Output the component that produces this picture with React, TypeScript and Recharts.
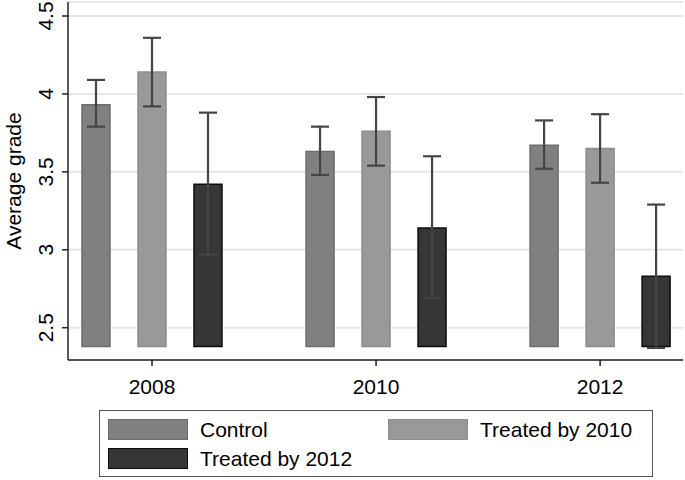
import React from 'react';
import { BarChart, Bar, ErrorBar, XAxis, YAxis, CartesianGrid } from 'recharts';

const years = [2008, 2010, 2012];
const yTicks = [2.5, 3, 3.5, 4, 4.5];
const BAR_FLOOR = 2.38;

// means and confidence bounds
const controlMean = [3.93, 3.63, 3.67];
const controlLo = [3.79, 3.48, 3.52];
const controlHi = [4.09, 3.79, 3.83];

const t2010Mean = [4.14, 3.76, 3.65];
const t2010Lo = [3.92, 3.54, 3.43];
const t2010Hi = [4.36, 3.98, 3.87];

const t2012Mean = [3.42, 3.14, 2.83];
const t2012Lo = [2.97, 2.69, 2.37];
const t2012Hi = [3.88, 3.6, 3.29];

const series = [
  { key: 'control', name: 'Control', fill: '#808080', stroke: '#6c6c6c', mean: controlMean, lo: controlLo, hi: controlHi },
  { key: 't2010', name: 'Treated by 2010', fill: '#999999', stroke: '#8c8c8c', mean: t2010Mean, lo: t2010Lo, hi: t2010Hi },
  { key: 't2012', name: 'Treated by 2012', fill: '#363636', stroke: '#0c0c0c', mean: t2012Mean, lo: t2012Lo, hi: t2012Hi },
];

const data = years.map((year, i) => {
  const row: any = { year };
  series.forEach((s) => {
    row[s.key] = [BAR_FLOOR, s.mean[i]];
    row[s.key + 'Err'] = [s.mean[i] - s.lo[i], s.hi[i] - s.mean[i]];
  });
  return row;
});

const FONT = "Arial, 'Liberation Sans', sans-serif";

const YTick = (props: any) => {
  const { x, y, payload } = props;
  return (
    <text x={x} y={y} transform={`rotate(-90 ${x} ${y})`} textAnchor="middle" fontSize={21} fontFamily={FONT} fill="#000">
      {payload.value}
    </text>
  );
};

const YLabel = (props: any) => {
  const { viewBox } = props;
  const cy = viewBox.y + viewBox.height / 2;
  return (
    <text x={21} y={cy} transform={`rotate(-90 21 ${cy})`} textAnchor="middle" fontSize={21} fontFamily={FONT} fill="#000">
      Average grade
    </text>
  );
};

const LegendBox = () => {
  const items = [
    { s: series[0], left: 8, top: 8 },
    { s: series[1], left: 288, top: 8 },
    { s: series[2], left: 8, top: 37 },
  ];
  return (
    <div
      style={{
        position: 'absolute',
        left: 99,
        top: 410,
        width: 552,
        height: 65,
        border: '1.5px solid #555',
        background: '#fff',
        fontFamily: FONT,
        fontSize: 21,
      }}
    >
      {items.map(({ s, left, top }) => (
        <div key={s.key} style={{ position: 'absolute', left, top, display: 'flex', alignItems: 'center', height: 21 }}>
          <div style={{ width: 78, height: 19, background: s.fill, border: `1.5px solid ${s.stroke}` }} />
          <span style={{ marginLeft: 12, whiteSpace: 'nowrap', color: '#000' }}>{s.name}</span>
        </div>
      ))}
    </div>
  );
};

export default function App() {
  return (
    <div style={{ position: 'absolute', left: 0, top: 0, width: 685, height: 480, background: '#fff' }}>
      <BarChart
        width={685}
        height={480}
        data={data}
        margin={{ top: 2, right: 2, bottom: 0, left: 0 }}
        barSize={28}
        barGap={28}
      >
        <CartesianGrid vertical={false} stroke="#e6e6e6" strokeWidth={2} />
        <XAxis
          dataKey="year"
          type="number"
          domain={[2007.25, 2012.74]}
          ticks={years}
          allowDataOverflow
          axisLine={{ stroke: '#222', strokeWidth: 1.5 }}
          tickLine={{ stroke: '#222', strokeWidth: 1.5 }}
          tickSize={6}
          tickMargin={13}
          tick={{ fontSize: 21, fill: '#000', fontFamily: FONT }}
          height={120}
        />
        <YAxis
          type="number"
          domain={[2.2928, 4.5898]}
          ticks={yTicks}
          allowDataOverflow
          width={68}
          axisLine={{ stroke: '#222', strokeWidth: 1.5 }}
          tickLine={{ stroke: '#222', strokeWidth: 1.5 }}
          tickSize={6}
          tickMargin={9}
          tick={<YTick />}
          label={<YLabel />}
        />
        {series.map((s) => (
          <Bar key={s.key} dataKey={s.key} name={s.name} fill={s.fill} stroke={s.stroke} strokeWidth={1.5} isAnimationActive={false}>
            <ErrorBar dataKey={s.key + 'Err'} width={9} stroke="#454545" strokeWidth={2.2} direction="y" isAnimationActive={false} />
          </Bar>
        ))}
      </BarChart>
      <LegendBox />
    </div>
  );
}
